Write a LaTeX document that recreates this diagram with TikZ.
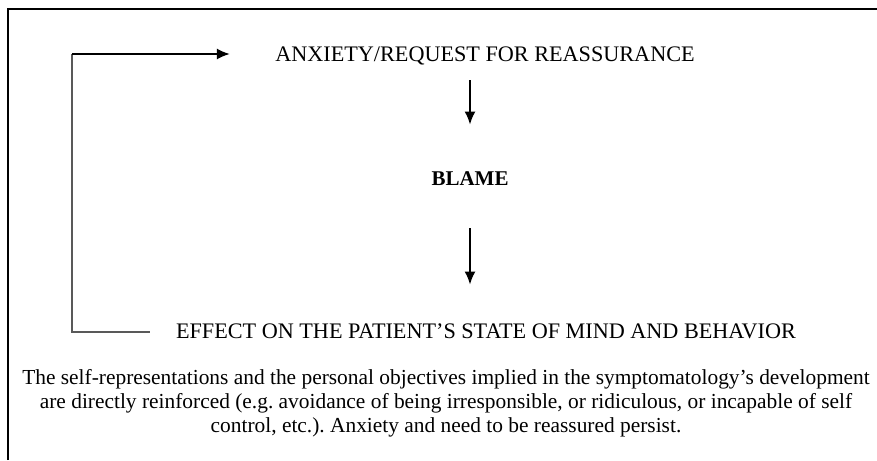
\documentclass[tikz,border=0pt]{standalone}
\usepackage{fontspec}
\setmainfont{Liberation Serif}
\usepackage{tikz}
\usetikzlibrary{arrows.meta, positioning}
\frenchspacing

\begin{document}
\begin{tikzpicture}[x=0.5pt, y=-0.5pt,
  lbl/.style={inner sep=0pt, anchor=base, text height=7.5pt, text depth=2.5pt,
    font=\fontsize{11.1}{12}\selectfont},
  flow/.style={line width=1pt, -{Latex[length=6.5pt, width=5.5pt]}},
  back/.style={line width=0.7pt, gray!70!black}]
\useasboundingbox (0,0) rectangle (877,460);
% Frame
\draw[line width=0.6pt] (8,460) -- (8,9) -- (877,9);

% Cycle
\node[lbl] (anx) at (485,62) {ANXIETY/REQUEST FOR REASSURANCE};
\node[lbl, font=\fontsize{10.5}{12}\selectfont] (blame) at (470,185) {\textbf{BLAME}};
\node[lbl] (effect) at (486,338) {EFFECT ON THE PATIENT'S STATE OF MIND AND BEHAVIOR};
\draw[flow, shorten <=6.5pt, shorten >=22.5pt] (anx.south -| blame) -- (blame);
\draw[flow, shorten <=19pt, shorten >=19pt] (blame) -- (blame |- effect.north);

% Back to the start
\coordinate (loopTop) at (72,54);
\coordinate (loopBot) at (72,332);
\draw[back] ([xshift=-13pt]effect.west |- loopBot) -- (loopBot) -- (loopTop);
\draw[flow, shorten >=22.5pt] (loopTop) -- (loopTop -| anx.west);

% Comment below
\node[inner sep=0pt, anchor=north, align=center, font=\fontsize{10.7}{12}\selectfont] (note) at (446,369)
  {The self-representations and the personal objectives implied in the symptomatology's development\\
   are directly reinforced (e.g. avoidance of being irresponsible, or ridiculous, or incapable of self\\
   control, etc.). Anxiety and need to be reassured persist.};
\end{tikzpicture}
\end{document}
